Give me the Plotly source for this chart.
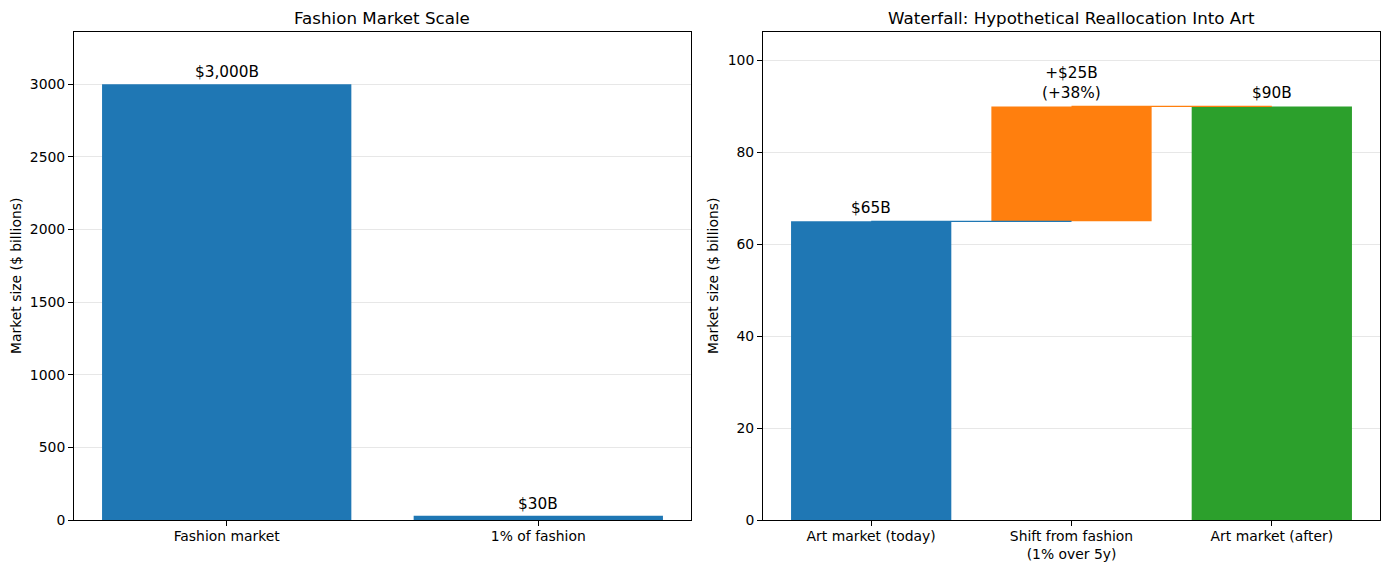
import plotly.graph_objects as go

# Left panel data
fashion_cats = ["Fashion market", "1% of fashion"]
fashion_vals = [3000, 30]
fashion_labels = ["$3,000B", "$30B"]

# Right panel (waterfall) data
wf_cats = ["Art market (today)", "Shift from fashion<br>(1% over 5y)", "Art market (after)"]
wf_bases = [0, 65, 0]
wf_heights = [65, 25, 90]
wf_labels = ["$65B", "+$25B<br>(+38%)", "$90B"]
wf_colors = ["#1f77b4", "#ff7f0e", "#2ca02c"]

left_ticks = [0, 500, 1000, 1500, 2000, 2500, 3000]
right_ticks = [0, 20, 40, 60, 80, 100]

OFF = 8  # page body margin
W, H = 1389 - 2 * OFF, 570 - OFF
FONT = "DejaVu Sans"


def px(x):
    return (x - OFF) / W


def py(y):
    return 1 - (y - OFF) / H


fig = go.Figure()

fig.add_trace(go.Bar(x=fashion_cats, y=fashion_vals, marker_color="#1f77b4",
                     marker_line_width=0, xaxis="x", yaxis="y", showlegend=False,
                     hoverinfo="skip"))

fig.add_trace(go.Bar(x=wf_cats, y=wf_heights, base=wf_bases, marker_color=wf_colors,
                     marker_line_width=0, xaxis="x2", yaxis="y2", showlegend=False,
                     hoverinfo="skip"))

# connector lines
fig.add_trace(go.Scatter(x=[wf_cats[0], wf_cats[1]], y=[wf_bases[0] + wf_heights[0]] * 2,
                         mode="lines", line=dict(color="#1f77b4", width=1.3),
                         xaxis="x2", yaxis="y2", showlegend=False, hoverinfo="skip"))
fig.add_trace(go.Scatter(x=[wf_cats[1], wf_cats[2]], y=[wf_bases[1] + wf_heights[1]] * 2,
                         mode="lines", line=dict(color="#ff7f0e", width=1.3),
                         xaxis="x2", yaxis="y2", showlegend=False, hoverinfo="skip"))

annotations = []
for c, v, t in zip(fashion_cats, fashion_vals, fashion_labels):
    annotations.append(dict(x=c, y=v, xref="x", yref="y", text=t, showarrow=False,
                            xanchor="center", yanchor="bottom", yshift=1,
                            font=dict(size=15.3, color="black")))
for c, b, h, t in zip(wf_cats, wf_bases, wf_heights, wf_labels):
    annotations.append(dict(x=c, y=b + h, xref="x2", yref="y2", text=t, showarrow=False,
                            xanchor="center", yanchor="bottom", yshift=2,
                            font=dict(size=15.3, color="black")))

x1d = [px(74), px(691)]
x2d = [px(763), px(1380)]
yd = [py(520), py(32)]

annotations += [
    dict(text="Fashion Market Scale", x=sum(x1d) / 2, y=yd[1], xref="paper", yref="paper",
         showarrow=False, xanchor="center", yanchor="middle", yshift=14, borderpad=0,
         font=dict(size=16.7, color="black")),
    dict(text="Waterfall: Hypothetical Reallocation Into Art", x=sum(x2d) / 2, y=yd[1],
         xref="paper", yref="paper", showarrow=False, xanchor="center", yanchor="middle",
         yshift=14, borderpad=0, font=dict(size=16.7, color="black")),
    dict(text="Market size ($ billions)", x=px(16), y=sum(yd) / 2, xref="paper", yref="paper",
         showarrow=False, textangle=-90, xanchor="center", yanchor="middle",
         font=dict(size=13.9, color="black")),
    dict(text="Market size ($ billions)", x=px(713), y=sum(yd) / 2, xref="paper", yref="paper",
         showarrow=False, textangle=-90, xanchor="center", yanchor="middle",
         font=dict(size=13.9, color="black")),
]

axis_common = dict(showline=True, linecolor="black", linewidth=1, mirror=True,
                   ticks="outside", ticklen=5, tickcolor="black", tickwidth=1,
                   tickfont=dict(size=13.9, color="black"), zeroline=False,
                   automargin=False)

fig.update_layout(
    width=W, height=H,
    margin=dict(l=0, r=0, t=0, b=0),
    paper_bgcolor="white", plot_bgcolor="white",
    font=dict(family=FONT, color="black"),
    bargap=0.2,
    xaxis=dict(domain=x1d, anchor="y", range=[-0.49, 1.49], showgrid=False,
               ticklabelstandoff=-2, **axis_common),
    yaxis=dict(domain=yd, anchor="x", range=[0, 3360], tickvals=left_ticks,
               showgrid=True, gridcolor="rgba(176,176,176,0.3)", **axis_common),
    xaxis2=dict(domain=x2d, anchor="y2", range=[-0.54, 2.54], showgrid=False,
                ticklabelstandoff=-2, **axis_common),
    yaxis2=dict(domain=yd, anchor="x2", range=[0, 106.2], tickvals=right_ticks,
                showgrid=True, gridcolor="rgba(176,176,176,0.3)", **axis_common),
    annotations=annotations,
)

fig.write_html("out.html")
